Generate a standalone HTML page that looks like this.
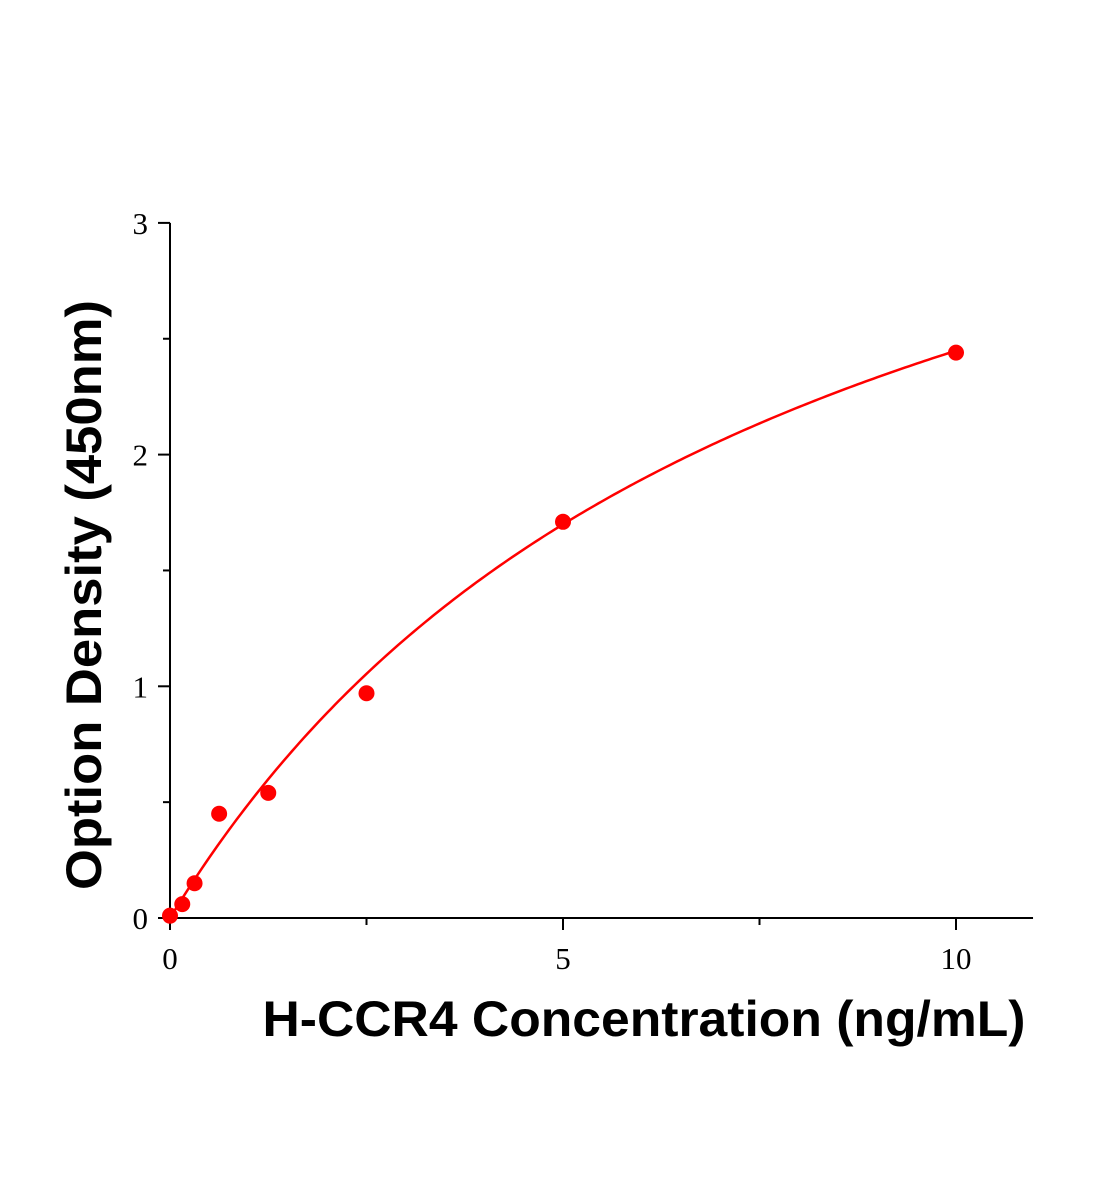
<!DOCTYPE html>
<html><head><meta charset="utf-8"><style>
html,body{margin:0;padding:0;background:#fff;}
svg{display:block;}
</style></head><body>
<svg id="chart" width="1104" height="1200" xmlns="http://www.w3.org/2000/svg">
<g id="axes"></g>
<g id="marks"></g>
<text transform="translate(101,595) rotate(-90)" text-anchor="middle" font-family="'Liberation Sans',sans-serif" font-weight="bold" font-size="50" textLength="590" lengthAdjust="spacingAndGlyphs">Option Density (450nm)</text>
<text x="644" y="1036" text-anchor="middle" font-family="'Liberation Sans',sans-serif" font-weight="bold" font-size="50" textLength="763" lengthAdjust="spacingAndGlyphs">H-CCR4 Concentration (ng/mL)</text>
</svg>
<script>
const concentrations = [0, 0.156, 0.3125, 0.625, 1.25, 2.5, 5, 10];
const odValues = [0.01, 0.06, 0.15, 0.45, 0.54, 0.97, 1.71, 2.44];
const xTickValues = [0, 5, 10];
const xMinorTicks = [2.5, 7.5];
const yTickValues = [0, 1, 2, 3];
const yMinorTicks = [0.5, 1.5, 2.5];
const fitParams = [4.38, 7.89]; // y = a*x/(b+x)

const X0=170, XS=78.6, Y0=918, YS=231.7;
const xs = v => X0 + v*XS;
const ys = v => Y0 - v*YS;
const NS="http://www.w3.org/2000/svg";
function mk(tag, parent){const e=document.createElementNS(NS,tag);parent.appendChild(e);return e;}
const axes=document.getElementById('axes'), marks=document.getElementById('marks');

let l=mk('line',axes);


l.setAttribute('x1',X0);l.setAttribute('x2',xs(10.98));l.setAttribute('y1',Y0);l.setAttribute('y2',Y0);l.setAttribute('stroke','#000');l.setAttribute('stroke-width','2');
l=mk('line',axes);


l.setAttribute('x1',X0);l.setAttribute('x2',X0);l.setAttribute('y1',Y0);l.setAttribute('y2',ys(3));l.setAttribute('stroke','#000');l.setAttribute('stroke-width','2');

function xt(v,len,label){
  const t=mk('line',axes);
  
  
  t.setAttribute('x1',xs(v));t.setAttribute('x2',xs(v));t.setAttribute('y1',Y0);t.setAttribute('y2',Y0+len);t.setAttribute('stroke','#000');t.setAttribute('stroke-width','2');
  if(label){const tx=mk('text',axes);
    
    
    tx.setAttribute('x',xs(v));tx.setAttribute('y',Y0+51);tx.setAttribute('text-anchor','middle');tx.setAttribute('font-family',"'Liberation Serif',serif");tx.setAttribute('font-size','31');tx.textContent=v;}
}
function yt(v,len,label){
  const t=mk('line',axes);
  
  
  t.setAttribute('x1',X0);t.setAttribute('x2',X0-len);t.setAttribute('y1',ys(v));t.setAttribute('y2',ys(v));t.setAttribute('stroke','#000');t.setAttribute('stroke-width','2');
  if(label){const tx=mk('text',axes);
    
    
    tx.setAttribute('x',X0-22);tx.setAttribute('y',ys(v)+11);tx.setAttribute('text-anchor','end');tx.setAttribute('font-family',"'Liberation Serif',serif");tx.setAttribute('font-size','31');tx.textContent=v;}
}
xTickValues.forEach(v=>xt(v,12,true));
xMinorTicks.forEach(v=>xt(v,7,false));
yTickValues.forEach(v=>yt(v,12,true));
yMinorTicks.forEach(v=>yt(v,7,false));

let d='';
for(let i=0;i<=200;i++){const x=10*i/200;const y=fitParams[0]*x/(fitParams[1]+x);d+=(i?'L':'M')+xs(x).toFixed(2)+','+ys(y).toFixed(2);}
const p=mk('path',marks);


p.setAttribute('d',d);p.setAttribute('fill','none');p.setAttribute('stroke','#f00');p.setAttribute('stroke-width','2.5');

concentrations.forEach((c,i)=>{
  const pt=mk('circle',marks);
  
  
  pt.setAttribute('cx',xs(c));pt.setAttribute('cy',ys(odValues[i]));pt.setAttribute('r','8');pt.setAttribute('fill','#f00');
});
</script>
</body></html>
